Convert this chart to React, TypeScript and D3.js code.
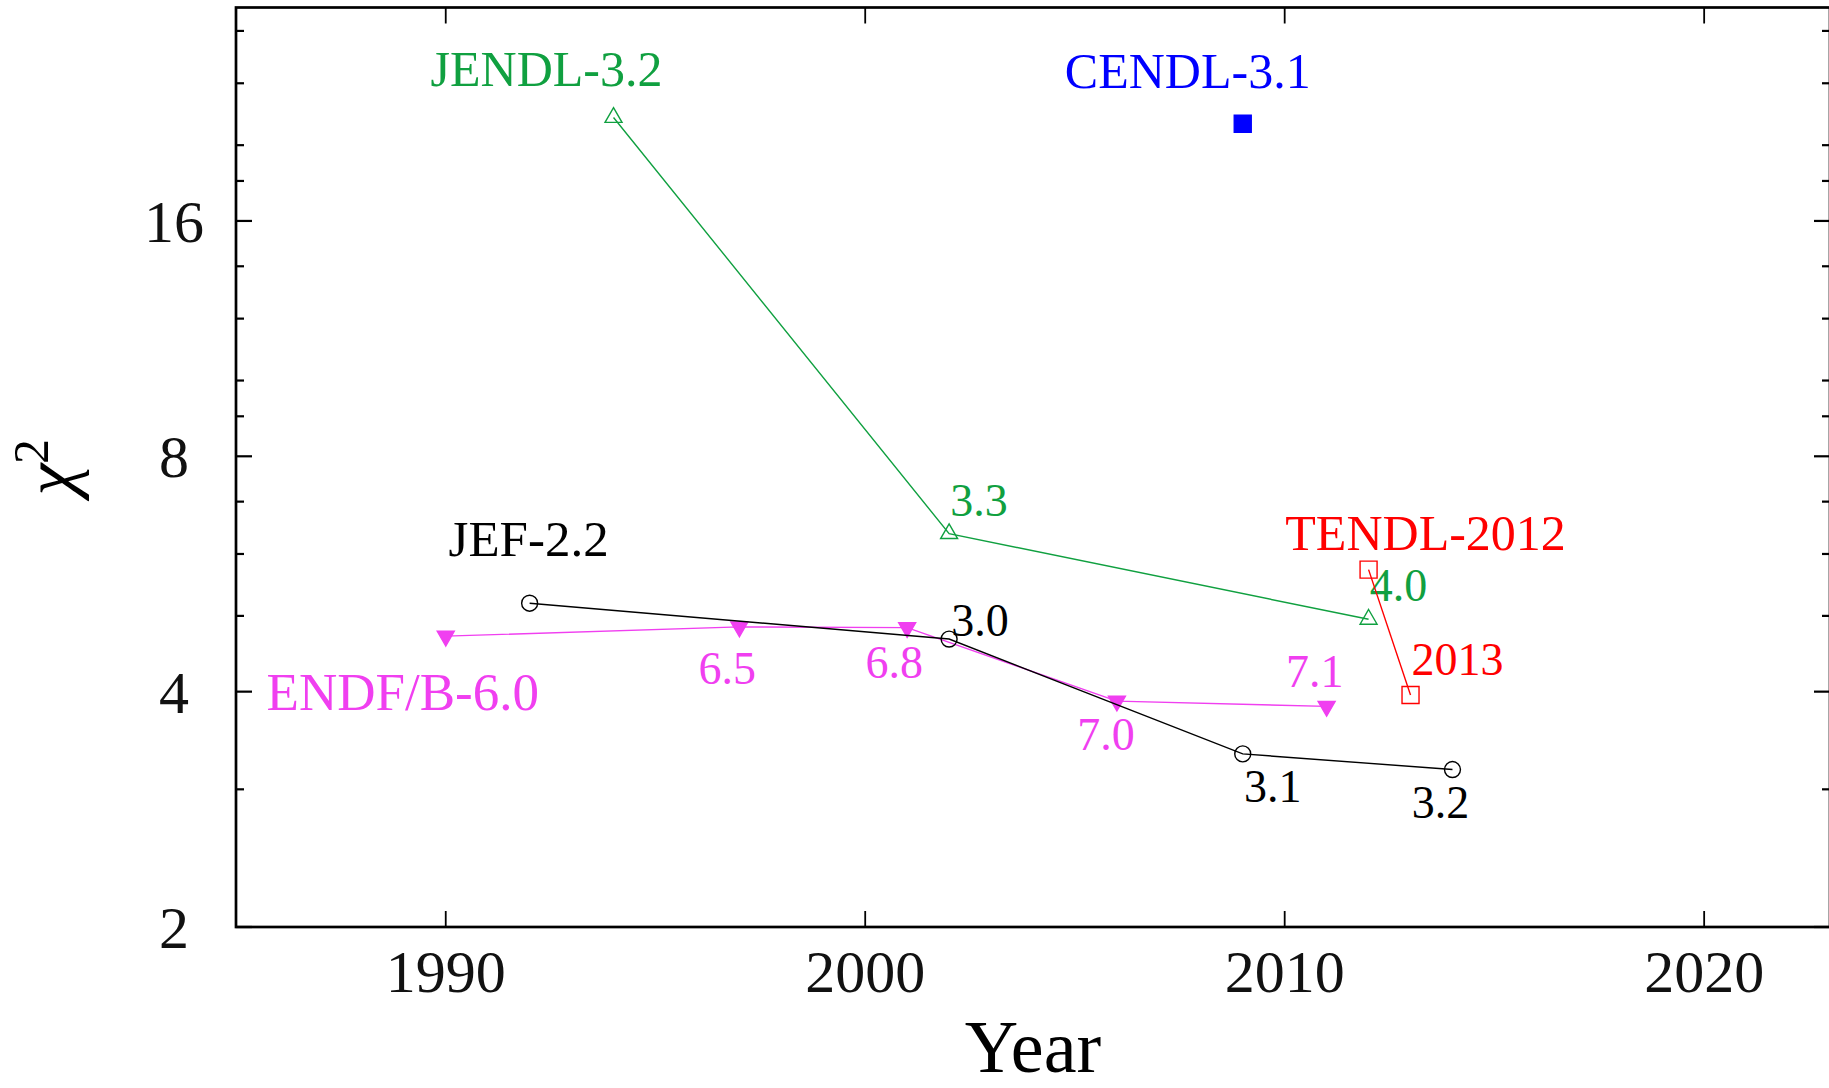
import React from "react";
import * as d3 from "d3";

// Evaluated library versions: release year and chi-square
const jefYears = [1992, 2002, 2009, 2014];
const jefChi2 = [5.19, 4.67, 3.33, 3.18];
const jefLabels = ["JEF-2.2", "3.0", "3.1", "3.2"];

const endfYears = [1990, 1997, 2001, 2006, 2011];
const endfChi2 = [4.71, 4.84, 4.83, 3.89, 3.83];
const endfLabels = ["ENDF/B-6.0", "6.5", "6.8", "7.0", "7.1"];

const jendlYears = [1994, 2002, 2012];
const jendlChi2 = [21.7, 6.37, 4.95];
const jendlLabels = ["JENDL-3.2", "3.3", "4.0"];

const cendlYears = [2009];
const cendlChi2 = [21.3];
const cendlLabels = ["CENDL-3.1"];

const tendlYears = [2012, 2013];
const tendlChi2 = [5.73, 3.96];
const tendlLabels = ["TENDL-2012", "2013"];

// Axis ticks
const xTicks = [1990, 2000, 2010, 2020];
const yMajorTicks = [2, 4, 8, 16];
const yMinorTicks = [3, 5, 6, 7, 9, 10, 12, 14, 18, 20, 24, 28];

const W = 1829;
const H = 1088;
const left = 236;
const right = 1830;
const top = 7.5;
const bottom = 927;

const FONT = "'Liberation Serif', 'Times New Roman', serif";

type Series = {
  years: number[];
  values: number[];
  labels: string[];
  color: string;
  marker: "circle" | "triDown" | "triUp" | "square";
  filled: boolean;
  // label placement relative to each point (pixels), and font size
  offsets: [number, number][];
  sizes: number[];
};

const series: Series[] = [
  {
    years: endfYears,
    values: endfChi2,
    labels: endfLabels,
    color: "#f03ff0",
    marker: "triDown",
    filled: true,
    offsets: [
      [-43, 74],
      [-12, 57],
      [-13, 50],
      [-11, 49],
      [-12, -19],
    ],
    sizes: [53, 46, 46, 46, 46],
  },
  {
    years: jefYears,
    values: jefChi2,
    labels: jefLabels,
    color: "#000000",
    marker: "circle",
    filled: false,
    offsets: [
      [-1, -47],
      [31, -3],
      [30, 48],
      [-12, 48],
    ],
    sizes: [51, 46, 46, 46],
  },
  {
    years: jendlYears,
    values: jendlChi2,
    labels: jendlLabels,
    color: "#10a040",
    marker: "triUp",
    filled: false,
    offsets: [
      [-67, -31],
      [30, -18],
      [30, -18],
    ],
    sizes: [50, 46, 46],
  },
  {
    years: cendlYears,
    values: cendlChi2,
    labels: cendlLabels,
    color: "#0000ff",
    marker: "square",
    filled: true,
    offsets: [[-55, -36]],
    sizes: [50],
  },
  {
    years: tendlYears,
    values: tendlChi2,
    labels: tendlLabels,
    color: "#ff0000",
    marker: "square",
    filled: false,
    offsets: [
      [57, -20],
      [47, -20],
    ],
    sizes: [50, 46],
  },
];

export default function App() {
  const x = d3.scaleLinear().domain([1985, 2023]).range([left, right]);
  const y = d3.scaleLog().base(2).domain([2, 30]).range([bottom, top]);

  const line = d3
    .line<[number, number]>()
    .x((d) => x(d[0]))
    .y((d) => y(d[1]));

  const symbolPath = (m: Series["marker"]) => {
    switch (m) {
      case "circle":
        return d3.symbol(d3.symbolCircle, 200)()!;
      case "square":
        return d3.symbol(d3.symbolSquare, 289)()!;
      default:
        return d3.symbol(d3.symbolTriangle, 125)()!;
    }
  };

  return (
    <svg
      width={W}
      height={H}
      viewBox={`0 0 ${W} ${H}`}
      style={{ position: "absolute", left: 0, top: 0, background: "#fff" }}
      fontFamily={FONT}
    >
      <rect x={0} y={0} width={W} height={H} fill="#fff" />

      {/* data series */}
      {series.map((s, si) => {
        const pts = s.years.map((yr, i) => [yr, s.values[i]] as [number, number]);
        return (
          <g key={si}>
            {pts.length > 1 && (
              <path d={line(pts)!} fill="none" stroke={s.color} strokeWidth={1.4} />
            )}
            {pts.map((p, i) => (
              <path
                key={i}
                d={symbolPath(s.marker)}
                transform={`translate(${x(p[0])},${y(p[1])})${s.marker === "triDown" ? " rotate(180)" : ""}`}
                fill={s.filled ? s.color : "none"}
                stroke={s.color}
                strokeWidth={1.4}
              />
            ))}
            {pts.map((p, i) => (
              <text
                key={"l" + i}
                x={x(p[0]) + s.offsets[i][0]}
                y={y(p[1]) + s.offsets[i][1]}
                textAnchor="middle"
                fontSize={s.sizes[i]}
                fill={s.color}
              >
                {s.labels[i]}
              </text>
            ))}
          </g>
        );
      })}

      {/* frame */}
      <rect
        x={left}
        y={top}
        width={right - left}
        height={bottom - top}
        fill="none"
        stroke="#000"
        strokeWidth={2.7}
      />

      {/* x ticks, bottom and top */}
      {xTicks.map((t) => (
        <g key={t}>
          <line x1={x(t)} x2={x(t)} y1={bottom} y2={bottom - 16} stroke="#000" strokeWidth={1.8} />
          <line x1={x(t)} x2={x(t)} y1={top} y2={top + 16} stroke="#000" strokeWidth={1.8} />
          <text x={x(t)} y={992} textAnchor="middle" fontSize={60} fill="#111">
            {t}
          </text>
        </g>
      ))}

      {/* y ticks, left and right */}
      {yMajorTicks.map((t) => (
        <g key={t}>
          <line x1={left} x2={left + 16} y1={y(t)} y2={y(t)} stroke="#000" strokeWidth={2.2} />
          <line x1={right} x2={right - 16} y1={y(t)} y2={y(t)} stroke="#000" strokeWidth={2.2} />
          <text x={174} y={y(t) + 21} textAnchor="middle" fontSize={60} fill="#111">
            {t}
          </text>
        </g>
      ))}
      {yMinorTicks.map((t) => (
        <g key={"m" + t}>
          <line x1={left} x2={left + 8} y1={y(t)} y2={y(t)} stroke="#000" strokeWidth={2.2} />
          <line x1={right} x2={right - 8} y1={y(t)} y2={y(t)} stroke="#000" strokeWidth={2.2} />
        </g>
      ))}

      {/* axis titles */}
      <text x={(left + right) / 2} y={1072} textAnchor="middle" fontSize={74} fill="#000">
        Year
      </text>
      <text
        transform={`translate(74,${(top + bottom) / 2}) rotate(-90)`}
        textAnchor="middle"
        fontSize={72}
        fill="#000"
      >
        <tspan fontStyle="italic">χ</tspan>
        <tspan dy={-26} fontSize={50}>
          2
        </tspan>
      </text>
    </svg>
  );
}
